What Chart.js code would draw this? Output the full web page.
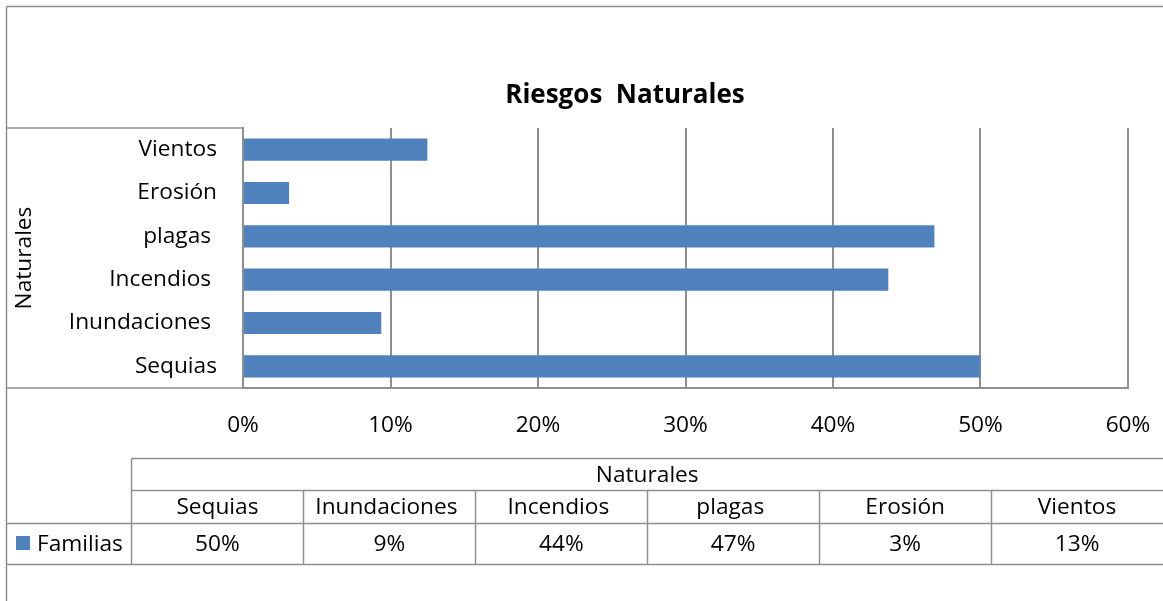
<!DOCTYPE html>
<html>
<head>
<meta charset="utf-8">
<script src="https://cdn.jsdelivr.net/npm/chart.js@4.4.1/dist/chart.umd.min.js"></script>
<style>
  html, body { margin: 0; padding: 0; background: #fff; }
  #wrap { width: 1163px; height: 601px; position: relative; }
</style>
</head>
<body>
<div id="wrap"><canvas id="c" width="1163" height="601"></canvas></div>
<script>
// ---- data ----
const chartTitle = 'Riesgos  Naturales';
const axisTitle = 'Naturales';
const seriesName = 'Familias';
const categories = ['Sequias', 'Inundaciones ', 'Incendios ', 'plagas ', 'Erosión', 'Vientos'];
const familias = [0.5, 0.09375, 0.4375, 0.46875, 0.03125, 0.125];
const xTickMin = 0;
const xTickMax = 0.6;
const xTickStep = 0.1;

const FONT = "'Open Sans'";
const FS = 22.7;
const GRAY = '#8f8f8f';
const BLUE = '#4F81BD';
const pct = v => Math.round(v * 100) + '%';

const framePlugin = {
  id: 'frame',
  afterDraw(chart) {
    const ctx = chart.ctx;
    const ca = chart.chartArea;
    ctx.save();
    // title
    ctx.fillStyle = '#000';
    ctx.font = 'bold 26px ' + FONT;
    ctx.textAlign = 'center';
    ctx.textBaseline = 'alphabetic';
    ctx.fillText(chartTitle, 625, 102.5);

    ctx.strokeStyle = GRAY;
    ctx.lineWidth = 1.5;
    const line = (x1, y1, x2, y2) => { ctx.beginPath(); ctx.moveTo(x1, y1); ctx.lineTo(x2, y2); ctx.stroke(); };
    // outer frame
    line(6.5, 6.5, 1163, 6.5);
    line(6.5, 6.5, 6.5, 601);
    // box around the category labels
    line(6.5, ca.top, ca.left, ca.top);
    line(6.5, ca.bottom, ca.left, ca.bottom);

    // ---- data table ----
    const tLeft = 131.5, tRight = 1163;
    const yTop = 458.5, yCat = 490.5, yVal = 523.5, yBot = 564.5;
    const colW = (tRight - tLeft) / categories.length;
    line(tLeft, yTop, tRight, yTop);
    line(tLeft, yCat, tRight, yCat);
    line(6.5, yVal, tRight, yVal);
    line(6.5, yBot, tRight, yBot);
    line(tLeft, yTop, tLeft, yBot);
    for (let i = 1; i < categories.length; i++) {
      const x = Math.round(tLeft + colW * i) + 0.5;
      line(x, yCat, x, yBot);
    }
    ctx.fillStyle = '#000';
    ctx.font = FS + 'px ' + FONT;
    ctx.textAlign = 'center';
    ctx.textBaseline = 'middle';
    ctx.fillText(axisTitle, (tLeft + tRight) / 2, (yTop + yCat) / 2 + 1);
    categories.forEach((c, i) => {
      const cx = tLeft + colW * (i + 0.5);
      ctx.fillText(c, cx, (yCat + yVal) / 2 + 1);
      ctx.fillText(pct(familias[i]), cx, (yVal + yBot) / 2 + 1);
    });
    // legend key
    ctx.fillStyle = BLUE;
    ctx.fillRect(16, 536, 14, 14);
    ctx.fillStyle = '#000';
    ctx.textAlign = 'left';
    ctx.fillText(seriesName, 37, (yVal + yBot) / 2 + 1);
    ctx.restore();
  }
};

new Chart(document.getElementById('c'), {
  type: 'bar',
  data: {
    labels: categories,
    datasets: [{
      label: seriesName,
      data: familias,
      backgroundColor: BLUE,
      borderWidth: 0,
      categoryPercentage: 1,
      barPercentage: 0.51
    }]
  },
  options: {
    indexAxis: 'y',
    responsive: false,
    animation: false,
    layout: { padding: { left: 0, right: 35, top: 128, bottom: 153 } },
    plugins: {
      legend: { display: false },
      tooltip: { enabled: false },
      title: { display: false }
    },
    scales: {
      x: {
        min: xTickMin,
        max: xTickMax,
        ticks: {
          stepSize: xTickStep,
          color: '#000',
          font: { family: FONT, size: FS },
          padding: 23.5,
          callback: v => pct(v)
        },
        grid: { color: GRAY, lineWidth: 2, drawTicks: false },
        border: { color: GRAY, width: 2 },
        afterFit: s => { s.height = 60; s.paddingLeft = 0; s.paddingRight = 0; }
      },
      y: {
        reverse: true,
        ticks: {
          color: '#000',
          font: { family: FONT, size: FS },
          padding: 26
        },
        grid: { display: false, drawTicks: false },
        border: { color: GRAY, width: 2 },
        title: {
          display: true,
          text: axisTitle,
          color: '#000',
          font: { family: FONT, size: FS },
          padding: { top: 11, bottom: 0 }
        },
        afterFit: s => { s.width = 243; s.paddingTop = 0; s.paddingBottom = 0; }
      }
    }
  },
  plugins: [framePlugin]
});
</script>
</body>
</html>
